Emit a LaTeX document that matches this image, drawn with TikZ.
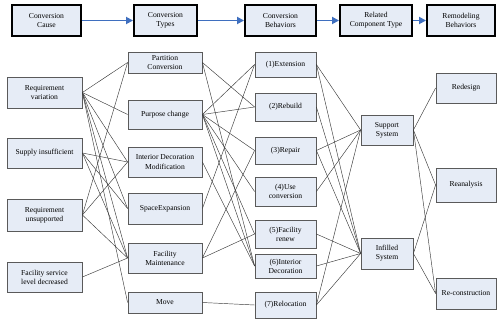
\documentclass[tikz,border=0pt]{standalone}
\usepackage{fontspec}
\setmainfont{Liberation Serif}
\usetikzlibrary{arrows.meta}
\definecolor{boxfill}{HTML}{E6ECF6}
\definecolor{boxline}{HTML}{5A5A5A}
\definecolor{arrowblue}{HTML}{3F6FBF}
\definecolor{edgegrey}{HTML}{3A3A3A}
\tikzset{
  box/.style={draw=boxline, fill=boxfill, line width=0.8pt, inner sep=0pt, align=center, font=\fontsize{7.6}{9.2}\selectfont},
  headbox/.style={box, draw=black, line width=1.9pt},
  flowarrow/.style={draw=arrowblue, line width=1.7pt, -{Triangle[length=7pt,width=7pt]}},
  link/.style={draw=edgegrey, line width=0.45pt}
}
\newcommand{\bx}[7][box]{\node[#1, minimum width={#5-#3}, minimum height={#6-#4}] (#2) at ({(#3+#5)/2},{(#4+#6)/2}) {#7};}
\begin{document}
\begin{tikzpicture}[x=1pt,y=-1pt]
\useasboundingbox (0,0) rectangle (497,320);
% header
\bx[headbox]{h1}{12}{5}{81}{36}{Conversion\\Cause}
\bx[headbox]{h2}{134}{5}{197}{36}{Conversion\\Types}
\bx[headbox]{h3}{245}{5}{316}{36}{Conversion\\Behaviors}
\bx[headbox]{h4}{340}{5}{412}{36}{Related\\Component Type}
\bx[headbox]{h5}{427}{5}{495}{36}{Remodeling\\Behaviors}
\draw[flowarrow] (h1) -- (h2);
\draw[flowarrow] (h2) -- (h3);
\draw[flowarrow] (h3) -- (h4);
\draw[flowarrow] (h4) -- (h5);
% column 1
\bx{a1}{7}{77}{82}{108}{Requirement\\variation}
\bx{a2}{7}{138}{82}{168}{Supply insufficient}
\bx{a3}{7}{199}{82}{231}{Requirement\\unsupported}
\bx{a4}{7}{262}{82}{292}{Facility service\\level decreased}
% column 2
\bx{b1}{128}{52}{202}{73}{Partition\\Conversion}
\bx{b2}{128}{100}{202}{129}{Purpose change}
\bx{b3}{128}{147}{202}{177}{Interior Decoration\\Modification}
\bx{b4}{128}{193}{202}{224}{SpaceExpansion}
\bx{b5}{128}{243}{202}{273}{Facility\\Maintenance}
\bx{b6}{128}{292}{202}{313}{Move}
% column 3
\bx{c1}{255}{52}{316}{77}{(1)Extension}
\bx{c2}{255}{93}{316}{121}{(2)Rebuild}
\bx{c3}{255}{137}{316}{164}{(3)Repair}
\bx{c4}{255}{177}{316}{206}{(4)Use\\conversion}
\bx{c5}{255}{220}{316}{248}{(5)Facility\\renew}
\bx{c6}{255}{254}{316}{278}{(6)Interior\\Decoration}
\bx{c7}{255}{292}{316}{318}{(7)Relocation}
% column 4
\bx{d1}{361}{115}{413}{145}{Support\\System}
\bx{d2}{361}{238}{413}{269}{Infilled\\System}
% column 5
\bx{e1}{436}{73}{496}{103}{Redesign}
\bx{e2}{436}{168}{496}{202}{Reanalysis}
\bx{e3}{436}{278}{496}{309}{Re-construction}
% links col1 -> col2
\foreach \s/\t in {a1/b1,a1/b2,a1/b3,a1/b4,a1/b5,a1/b6,
                   a2/b3,a2/b4,a2/b5,
                   a3/b1,a3/b3,a3/b5,
                   a4/b5}
  \draw[link] (\s.east) -- (\t.west);
% links col2 -> col3
\foreach \s/\t in {b1/c2,b1/c6,
                   b2/c1,b2/c2,b2/c3,b2/c4,b2/c5,b2/c6,
                   b3/c6,
                   b4/c1,
                   b5/c3,b5/c5,
                   b6/c7}
  \draw[link] (\s.east) -- (\t.west);
% links col3 -> col4
\foreach \s/\t in {c1/d1,c1/d2,c2/d2,c3/d1,c3/d2,c4/d1,c5/d2,c6/d2,c7/d1,c7/d2}
  \draw[link] (\s.east) -- (\t.west);
% links col4 -> col5
\foreach \s/\t in {d1/e1,d1/e2,d1/e3,d2/e2,d2/e3}
  \draw[link] (\s.east) -- (\t.west);
\end{tikzpicture}
\end{document}
